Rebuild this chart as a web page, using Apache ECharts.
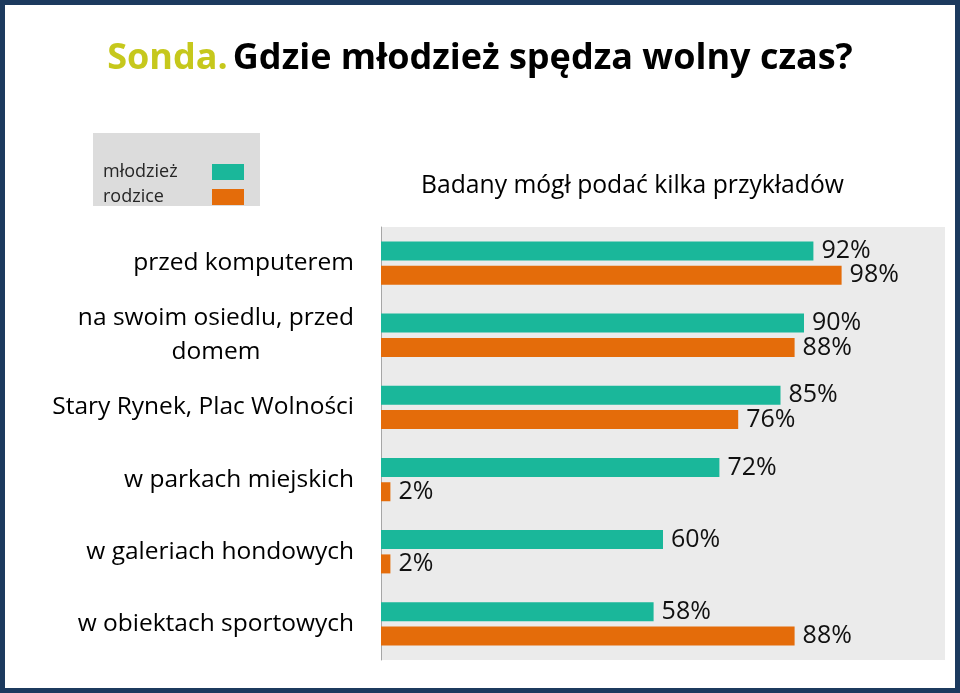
<!DOCTYPE html>
<html>
<head>
<meta charset="utf-8">
<script src="https://cdn.jsdelivr.net/npm/echarts@6/dist/echarts.min.js"></script>
<style>
html,body{margin:0;padding:0;background:#fff;}
#wrap{position:relative;width:960px;height:693px;}
#c{position:absolute;left:0;top:0;width:960px;height:693px;}
#frame{position:absolute;left:0;top:0;width:960px;height:693px;box-sizing:border-box;border:5px solid #1c3a5e;pointer-events:none;}
</style>
</head>
<body>
<div id="wrap"><div id="c"></div><div id="frame"></div></div>
<script>
const titleLead = 'Sonda.';
const titleMain = 'Gdzie młodzież spędza wolny czas?';
const subtitle = 'Badany mógł podać kilka przykładów';
const categories = ['przed komputerem', 'na swoim osiedlu, przed\ndomem', 'Stary Rynek, Plac Wolności', 'w parkach miejskich', 'w galeriach hondowych', 'w obiektach sportowych'];
const seriesNames = ['młodzież', 'rodzice'];
const mlodziez = [92, 90, 85, 72, 60, 58];
const rodzice = [98, 88, 76, 2, 2, 88];

const FONT = 'Open Sans';
const chart = echarts.init(document.getElementById('c'), null, {renderer: 'canvas'});
chart.setOption({
  backgroundColor: '#ffffff',
  animation: false,
  color: ['#1ab79a', '#e46c0a'],
  title: [{
    text: '{a|' + titleLead + '} {b|' + titleMain + '}',
    left: 'center',
    top: 36,
    textStyle: {
      rich: {
        a: {color: '#c6c81c', fontFamily: FONT, fontWeight: 'bold', fontSize: 36},
        b: {color: '#000000', fontFamily: FONT, fontWeight: 'bold', fontSize: 36}
      }
    }
  }, {
    text: subtitle,
    left: 416,
    top: 168,
    textStyle: {color: '#000', fontFamily: FONT, fontWeight: 'normal', fontSize: 24.7}
  }],
  legend: {
    orient: 'vertical',
    left: 93,
    top: 133,
    align: 'right',
    icon: 'rect',
    itemWidth: 32,
    itemHeight: 16,
    itemGap: 7,
    padding: [30, 16, 0, 10],
    backgroundColor: '#dcdcdc',
    data: seriesNames,
    formatter: function (n) { return '{n|' + n + '}'; },
    textStyle: {
      color: '#262626',
      fontFamily: FONT,
      fontSize: 18,
      lineHeight: 16,
      rich: {n: {width: 104, align: 'left', fontFamily: FONT, fontSize: 18, lineHeight: 16, color: '#262626'}}
    }
  },
  grid: {left: 381, right: 15, top: 227, height: 433, show: true, backgroundColor: '#ebebeb', borderWidth: 0},
  xAxis: {type: 'value', min: 0, max: 120, show: false, splitLine: {show: false}},
  yAxis: {
    type: 'category',
    inverse: true,
    data: categories,
    axisTick: {show: false},
    axisLine: {show: true, lineStyle: {color: '#a6a6a6', width: 1}},
    axisLabel: {
      margin: 27,
      color: '#000',
      fontFamily: FONT,
      fontSize: 24.5,
      lineHeight: 34,
      formatter: function (v) {
        if (v.indexOf('\n') >= 0) {
          return v.split('\n').map(function (l) { return '{c|' + l + '}'; }).join('\n');
        }
        return v;
      },
      rich: {c: {align: 'center', fontFamily: FONT, fontSize: 24.5, lineHeight: 34, color: '#000'}}
    }
  },
  series: [{
    name: seriesNames[0],
    type: 'bar',
    data: mlodziez,
    barWidth: 19,
    barGap: '28%',
    label: {show: true, position: 'right', distance: 8, formatter: '{c}%', color: '#111', fontFamily: FONT, fontSize: 25}
  }, {
    name: seriesNames[1],
    type: 'bar',
    data: rodzice,
    barWidth: 19,
    label: {show: true, position: 'right', distance: 8, formatter: '{c}%', color: '#111', fontFamily: FONT, fontSize: 25}
  }]
});
</script>
</body>
</html>
